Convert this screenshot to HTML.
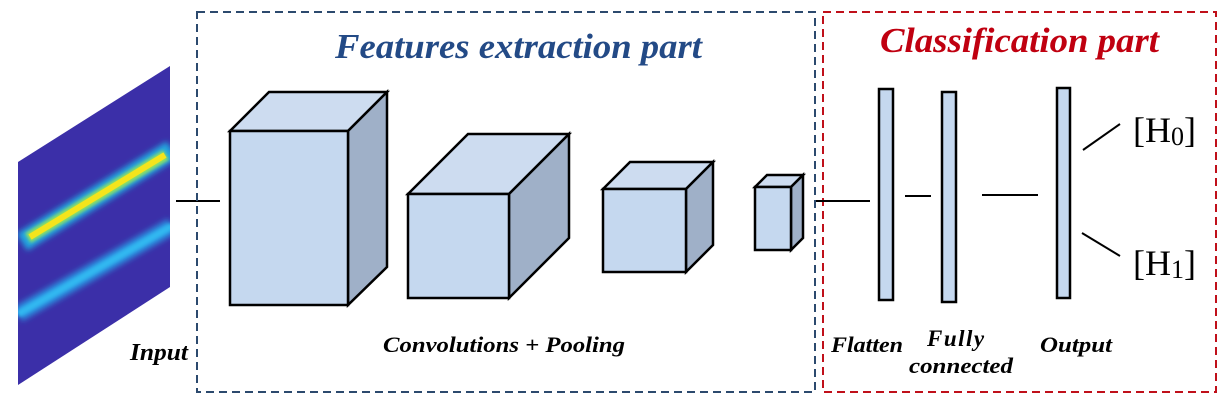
<!DOCTYPE html>
<html><head><meta charset="utf-8"><style>
html,body{margin:0;padding:0;background:#fff;}
svg{display:block;}
text{font-family:"Liberation Serif",serif;font-weight:bold;font-style:italic;}
</style></head><body>
<svg width="1225" height="406" viewBox="0 0 1225 406" xmlns="http://www.w3.org/2000/svg">
<defs>
<filter id="bl" x="-20%" y="-20%" width="140%" height="140%"><feGaussianBlur stdDeviation="3"/></filter>
<filter id="bl2" x="-20%" y="-20%" width="140%" height="140%"><feGaussianBlur stdDeviation="1.5"/></filter>
<clipPath id="cp"><polygon points="18,162 170,66 170,287 18,385"/></clipPath>
</defs>
<polygon points="18,162 170,66 170,287 18,385" fill="#3b2fa8"/>
<g clip-path="url(#cp)">
<line x1="18" y1="314" x2="172" y2="226" stroke="#2a90e0" stroke-width="16" filter="url(#bl)"/>
<line x1="18" y1="314" x2="172" y2="226" stroke="#30b8f0" stroke-width="7" filter="url(#bl2)"/>
<line x1="22" y1="242" x2="172" y2="150" stroke="#20a8e0" stroke-width="20" filter="url(#bl)"/>
<line x1="28" y1="238" x2="166" y2="155" stroke="#90e060" stroke-width="11" filter="url(#bl2)"/>
<line x1="30" y1="237" x2="165" y2="155" stroke="#f4e41c" stroke-width="6"/>
</g>
<text x="130" y="360" font-size="24" textLength="58" lengthAdjust="spacingAndGlyphs">Input</text>
<line x1="176" y1="201" x2="220" y2="201" stroke="#000" stroke-width="2"/>
<rect x="197" y="12" width="618" height="380" fill="none" stroke="#2c4a6e" stroke-width="2" stroke-dasharray="8,5"/>
<rect x="823" y="12" width="393" height="380" fill="none" stroke="#c0101a" stroke-width="2" stroke-dasharray="8,5"/>
<text x="335" y="58" font-size="35" fill="#234a86" textLength="367" lengthAdjust="spacingAndGlyphs">Features extraction part</text>
<text x="880" y="52" font-size="35" fill="#c00010" textLength="279" lengthAdjust="spacingAndGlyphs">Classification part</text>
<g stroke="#000" stroke-width="2.5" stroke-linejoin="miter">
<polygon points="230,131 269,92 387,92 348,131" fill="#cddcf0"/>
<polygon points="348,131 387,92 387,267 348,305" fill="#9fb0c8"/>
<rect x="230" y="131" width="118" height="174" fill="#c5d8ef"/>
<polygon points="408,194 468,134 569,134 509,194" fill="#cddcf0"/>
<polygon points="509,194 569,134 569,238 509,298" fill="#9fb0c8"/>
<rect x="408" y="194" width="101" height="104" fill="#c5d8ef"/>
<polygon points="603,189 630,162 713,162 686,189" fill="#cddcf0"/>
<polygon points="686,189 713,162 713,245 686,272" fill="#9fb0c8"/>
<rect x="603" y="189" width="83" height="83" fill="#c5d8ef"/>
<polygon points="755,187 767,175 803,175 791,187" fill="#cddcf0"/>
<polygon points="791,187 803,175 803,238 791,250" fill="#9fb0c8"/>
<rect x="755" y="187" width="36" height="63" fill="#c5d8ef"/>
</g>
<text x="383" y="352" font-size="22" textLength="242" lengthAdjust="spacingAndGlyphs">Convolutions + Pooling</text>
<g stroke="#000" stroke-width="2">
<line x1="816" y1="201" x2="870" y2="201"/>
<line x1="905" y1="196" x2="931" y2="196"/>
<line x1="982" y1="195" x2="1038" y2="195"/>
<line x1="1083" y1="150" x2="1120" y2="124"/>
<line x1="1082" y1="233" x2="1120" y2="256"/>
</g>
<g stroke="#000" stroke-width="2.5" fill="#c5d8ef">
<rect x="879" y="89" width="14" height="211"/>
<rect x="942" y="92" width="14" height="210"/>
<rect x="1057" y="88" width="13" height="210"/>
</g>
<text x="831" y="352" font-size="22" textLength="72" lengthAdjust="spacingAndGlyphs">Flatten</text>
<text x="927" y="346" font-size="23" letter-spacing="1.5">Fully</text>
<text x="909" y="373" font-size="22" textLength="104" lengthAdjust="spacingAndGlyphs">connected</text>
<text x="1040" y="352" font-size="22" textLength="72" lengthAdjust="spacingAndGlyphs">Output</text>
<text x="1133" y="142" font-size="36" style="font-style:normal;font-weight:normal">[H<tspan font-size="26" dy="3">0</tspan><tspan dy="-3">]</tspan></text>
<text x="1133" y="275" font-size="36" style="font-style:normal;font-weight:normal">[H<tspan font-size="26" dy="3">1</tspan><tspan dy="-3">]</tspan></text>
</svg>
</body></html>
